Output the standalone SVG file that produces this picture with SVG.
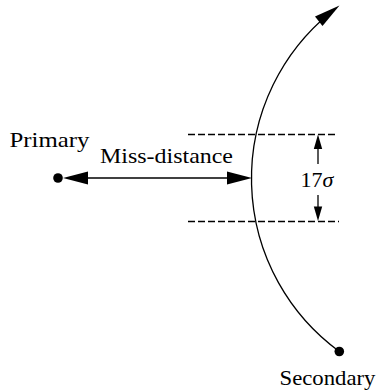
<svg xmlns="http://www.w3.org/2000/svg" width="384" height="390" viewBox="0 0 384 390">
<style>
text{font-family:"Liberation Serif","DejaVu Serif",serif;font-size:21px;fill:#000}
.ln{stroke:#000;stroke-width:1.3;fill:none}
.dash{stroke:#000;stroke-width:1.3;stroke-dasharray:7 3;fill:none}
.ah{fill:#000}
</style>
<rect width="384" height="390" fill="#fff"/>
<g id="connectors">
  <path class="dash" d="M188 134.5 H336"/>
  <path class="dash" d="M188 221.5 H339"/>
  <path class="ln" d="M339.3 351.5 A214 214 0 0 1 330 13"/>
  <polygon class="ah" points="339.5,5.5 322.5,26 315,16.5"/>
  <path class="ln" d="M80 178 H235"/>
  <polygon class="ah" points="63,178 88,171.5 88,184.5"/>
  <polygon class="ah" points="252,178 227,171.5 227,184.5"/>
  <path class="ln" d="M318 145 V164"/>
  <path class="ln" d="M318 195 V210"/>
  <polygon class="ah" points="318,134.5 313.8,149 322.2,149"/>
  <polygon class="ah" points="318,221 313.8,206.5 322.2,206.5"/>
</g>
<g id="primary">
  <circle cx="58" cy="178" r="4.8" fill="#000"/>
  <text x="9.5" y="146.5" textLength="80" lengthAdjust="spacingAndGlyphs">Primary</text>
</g>
<g id="secondary">
  <circle cx="339.3" cy="351.5" r="4.8" fill="#000"/>
  <text x="279.5" y="384.5" textLength="96" lengthAdjust="spacingAndGlyphs">Secondary</text>
</g>
<g id="miss-label">
  <text x="100" y="162.5" textLength="133" lengthAdjust="spacingAndGlyphs">Miss-distance</text>
</g>
<g id="sigma-label">
  <text x="300.5" y="186.5" style="font-size:22px" textLength="33" lengthAdjust="spacingAndGlyphs">17<tspan font-style="italic">σ</tspan></text>
</g>
</svg>
